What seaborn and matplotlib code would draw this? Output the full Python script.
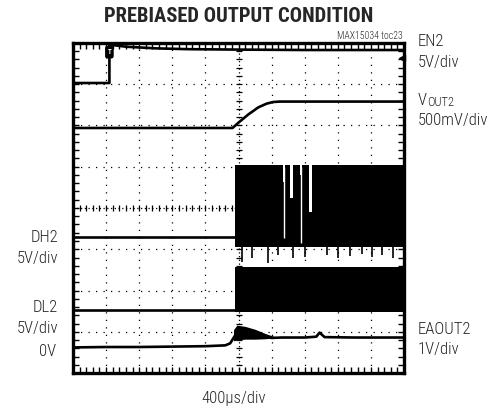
import matplotlib
matplotlib.use("Agg")
import matplotlib.pyplot as plt
import seaborn as sns
import numpy as np

# ---- trace data (divisions: x 0..10, y 0..8) ----
en2_t = [0.0, 1.1, 1.1, 1.6, 2.5, 3.5, 5.0, 7.0, 10.0]
en2_v = [7.03, 7.03, 7.96, 7.91, 7.87, 7.85, 7.84, 7.83, 7.83]

vout2_t = [0.0, 4.82, 5.0, 5.3, 5.6, 5.85, 6.05, 6.25, 10.0]
vout2_v = [5.94, 5.94, 6.07, 6.27, 6.44, 6.53, 6.57, 6.58, 6.58]

dh2_t = [0.0, 4.88]
dh2_v = [3.30, 3.30]
dh2_burst_t = [4.88, 10.0]
dh2_burst_lo = [3.05, 3.05]
dh2_burst_hi = [5.04, 5.04]
# white gaps inside the DH2 burst (start, end, lower edge)
dh2_gap_t0 = [6.33, 6.57, 6.86, 7.12]
dh2_gap_t1 = [6.41, 6.64, 6.91, 7.21]
dh2_gap_lo = [4.63, 4.24, 4.80, 3.90]
dh2_slit_t = [6.37, 6.89]
dh2_slit_lo = [3.27, 3.15]
# downward spikes below the DH2 burst
dh2_spike_t = [5.10, 5.40, 5.88, 6.18, 6.64, 7.01, 7.67, 8.00, 8.36, 8.73, 9.03, 9.33, 9.67]
dh2_spike_lo = [2.70, 2.78, 2.66, 2.85, 2.80, 2.82, 2.86, 2.80, 2.84, 2.88, 2.82, 2.86, 2.80]

dl2_t = [0.0, 4.88]
dl2_v = [1.52, 1.52]
dl2_burst_t = [4.88, 10.0]
dl2_burst_lo = [1.47, 1.47]
dl2_burst_hi = [2.56, 2.56]

ea_t = [0.0, 1.0, 2.0, 3.0, 4.0, 4.6, 4.75, 4.85, 4.95, 5.2, 5.5, 5.8, 6.0, 6.3, 7.0, 7.35, 7.45, 7.6, 8.5, 10.0]
ea_v = [0.62, 0.63, 0.63, 0.64, 0.65, 0.67, 0.72, 0.85, 0.98, 0.97, 0.93, 0.88, 0.85, 0.86, 0.86, 0.88, 0.98, 0.87, 0.86, 0.86]
ea_ring_t = [4.85, 4.95, 5.2, 5.5, 5.8, 6.1]
ea_ring_lo = [0.78, 0.80, 0.82, 0.82, 0.83, 0.85]
ea_ring_hi = [1.05, 1.16, 1.13, 1.06, 0.96, 0.88]

sns.set_style("white")
plt.rcParams["font.family"] = ["Roboto Condensed", "Archivo Narrow", "DejaVu Sans"]

W, H = 499, 411
fig = plt.figure(figsize=(W / 100, H / 100), dpi=100)
ax = fig.add_axes([73 / W, (H - 373) / H, 331 / W, 330 / H])
ax.set_xlim(0, 10)
ax.set_ylim(0, 8)

# graticule
for gx in range(1, 10):
    if gx != 5:
        ax.axvline(gx, color="black", lw=0.9, ls=(0, (1, 5)), zorder=1)
for gy in range(1, 8):
    if gy != 4:
        ax.axhline(gy, color="black", lw=0.9, ls=(0, (1, 5)), zorder=1)
ax.axvline(5, color="black", lw=0.9, ls=(0, (1, 2)), zorder=1)
ax.axhline(4, color="black", lw=0.9, ls=(0, (1, 2)), zorder=1)
ax.plot(np.full(39, 5.0), np.arange(0.2, 8, 0.2), ls="none", marker="_", ms=5, mew=0.9, color="black")
ax.plot(np.arange(0.2, 10, 0.2), np.full(49, 4.0), ls="none", marker="|", ms=5, mew=0.9, color="black")

ax.set_xticks(range(0, 11))
ax.set_yticks(range(0, 9))
ax.set_xticks(np.arange(0, 10.01, 0.2), minor=True)
ax.set_yticks(np.arange(0, 8.01, 0.2), minor=True)
ax.tick_params(which="both", direction="in", top=True, right=True, bottom=True, left=True,
               labelbottom=False, labelleft=False, length=4, width=1, color="black")
for s in ax.spines.values():
    s.set_linewidth(2.4)
    s.set_color("black")

# traces
lw = 1.9
sns.lineplot(x=en2_t, y=en2_v, ax=ax, color="black", lw=lw, estimator=None, sort=False)
sns.lineplot(x=vout2_t, y=vout2_v, ax=ax, color="black", lw=lw, estimator=None, sort=False)
sns.lineplot(x=dh2_t, y=dh2_v, ax=ax, color="black", lw=lw, estimator=None, sort=False)
sns.lineplot(x=dl2_t, y=dl2_v, ax=ax, color="black", lw=lw, estimator=None, sort=False)
sns.lineplot(x=ea_t, y=ea_v, ax=ax, color="black", lw=lw, estimator=None, sort=False)

ax.fill_between(dh2_burst_t, dh2_burst_lo, dh2_burst_hi, color="black", lw=0, zorder=3)
for t0, t1, lo in zip(dh2_gap_t0, dh2_gap_t1, dh2_gap_lo):
    ax.fill_between([t0, t1], [lo, lo], [5.06, 5.06], color="white", lw=0, zorder=4)
ax.vlines(dh2_slit_t, dh2_slit_lo, 5.0, color="white", lw=1.0, zorder=4)
ax.vlines(dh2_spike_t, dh2_spike_lo, 3.06, color="black", lw=1.2, zorder=3)
ax.fill_between(dl2_burst_t, dl2_burst_lo, dl2_burst_hi, color="black", lw=0, zorder=3)
ax.fill_between(ea_ring_t, ea_ring_lo, ea_ring_hi, color="black", lw=0, zorder=3)

# trigger and level markers
ax.text(1.1, 7.78, "T", ha="center", va="center", fontsize=5, color="white", fontweight="bold",
        bbox=dict(boxstyle="round,pad=0.25", fc="black", ec="black"), zorder=6)
ax.plot([9.93], [7.64], marker="<", ms=4, color="black", clip_on=False, zorder=6)


def fx(px):
    return px / W


def fy(py):
    return 1 - py / H


fig.text(fx(239), fy(16), "PREBIASED OUTPUT CONDITION", ha="center", va="center",
         fontsize=14.8, fontweight="black")
fig.text(fx(403), fy(36), "MAX15034 toc23", ha="right", va="center", fontsize=7, fontweight="light")

lab = 12
wt = "light"
fig.text(fx(418), fy(42), "EN2", ha="left", va="center", fontsize=lab, fontweight=wt)
fig.text(fx(418), fy(63), "5V/div", ha="left", va="center", fontsize=lab, fontweight=wt)
fig.text(fx(418), fy(100), "V", ha="left", va="center", fontsize=lab, fontweight=wt)
fig.text(fx(427), fy(102), "OUT2", ha="left", va="center", fontsize=9, fontweight=wt)
fig.text(fx(418), fy(120), "500mV/div", ha="left", va="center", fontsize=lab, fontweight=wt)
fig.text(fx(418), fy(329), "EAOUT2", ha="left", va="center", fontsize=lab, fontweight=wt)
fig.text(fx(418), fy(349), "1V/div", ha="left", va="center", fontsize=lab, fontweight=wt)

fig.text(fx(58), fy(237), "DH2", ha="right", va="center", fontsize=lab, fontweight=wt)
fig.text(fx(58), fy(258), "5V/div", ha="right", va="center", fontsize=lab, fontweight=wt)
fig.text(fx(58), fy(307), "DL2", ha="right", va="center", fontsize=lab, fontweight=wt)
fig.text(fx(58), fy(328), "5V/div", ha="right", va="center", fontsize=lab, fontweight=wt)
fig.text(fx(56), fy(352), "0V", ha="right", va="center", fontsize=lab, fontweight=wt)

fig.text(fx(234), fy(398), "400\u03bcs/div", ha="center", va="center", fontsize=lab, fontweight=wt)

fig.savefig("out.png", dpi=100)
